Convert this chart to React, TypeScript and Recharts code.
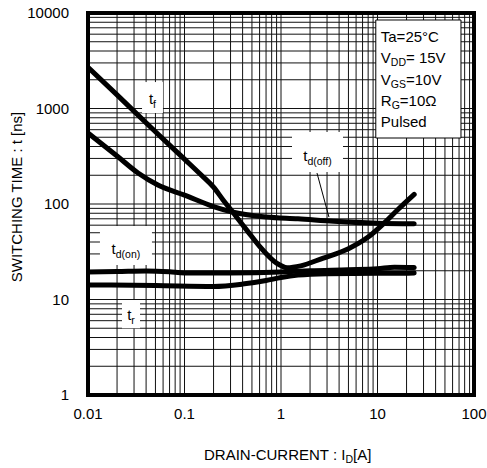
import React from "react";
import {
  LineChart,
  Line,
  XAxis,
  YAxis,
  CartesianGrid,
  ReferenceArea,
  ReferenceLine,
  Label,
} from "recharts";

// Switching time vs drain current (log-log), Ta = 25°C
const T_F = [
  [0.01, 2700], [0.02, 1390], [0.05, 570], [0.1, 295], [0.15, 200], [0.2, 150],
  [0.25, 111], [0.32, 81], [0.45, 52], [0.6, 36], [0.9, 24], [1.16, 21.5],
  [1.6, 22.5], [2.7, 27], [5, 34], [8, 45], [11.7, 63], [16, 86], [24, 126],
];
const T_D_OFF = [
  [0.01, 553], [0.02, 318], [0.033, 211], [0.053, 158], [0.1, 124], [0.2, 94],
  [0.32, 82], [0.7, 73], [1.5, 70], [3.5, 66], [10, 63], [24, 62],
];
const T_D_ON = [
  [0.01, 19.4], [0.02, 19.6], [0.04, 19.9], [0.07, 19.5], [0.1, 19], [0.3, 19],
  [1, 19.4], [2, 20], [5, 20.5], [10, 21], [15, 21.8], [24, 21.6],
];
const T_R = [
  [0.01, 14.2], [0.05, 14], [0.2, 13.7], [0.4, 14.5], [0.7, 15.8], [1, 17],
  [1.5, 18], [3, 18.6], [10, 18.8], [24, 18.9],
];

const X_MAJOR = [0.01, 0.1, 1, 10, 100];
const X_LABELS = ["0.01", "0.1", "1", "10", "100"];
const Y_MAJOR = [1, 10, 100, 1000, 10000];
const Y_LABELS = ["1", "10", "100", "1000", "10000"];
const MINOR_STEPS = [1, 2, 3, 4, 5, 6, 7, 8, 9];

const CONDITIONS = [
  { main: "Ta=25°C", sub: "", rest: "" },
  { main: "V", sub: "DD", rest: "= 15V" },
  { main: "V", sub: "GS", rest: "=10V" },
  { main: "R", sub: "G", rest: "=10Ω" },
  { main: "Pulsed", sub: "", rest: "" },
];

const FONT = "Arial, 'Liberation Sans', sans-serif";

const toPts = (pairs: number[][]) => pairs.map(([x, y]) => ({ x, y }));

const gridTicks = (majors: number[]) => {
  const out: number[] = [];
  majors.forEach((d, i) => {
    if (i === majors.length - 1) {
      out.push(d);
      return;
    }
    MINOR_STEPS.forEach((m) => out.push(Number((d * m).toPrecision(3))));
  });
  return out;
};

const X_TICKS = gridTicks(X_MAJOR);
const Y_TICKS = gridTicks(Y_MAJOR);

const fmt = (majors: number[], labels: string[]) => (v: number) => {
  const i = majors.findIndex((m) => Math.abs(m - v) / m < 1e-6);
  return i >= 0 ? labels[i] : "";
};

const curveLabel = (sub: string) => (p: any) => {
  const { x, y, width, height } = p.viewBox;
  return (
    <text
      x={x + width / 2}
      y={y + height * 0.72}
      textAnchor="middle"
      fontFamily={FONT}
      fontSize={15}
      fill="#000"
    >
      <tspan>t</tspan>
      <tspan fontSize={10.5} dy={4}>
        {sub}
      </tspan>
    </text>
  );
};

const conditionsLabel = (p: any) => {
  const { x, y } = p.viewBox;
  return (
    <g>
      {CONDITIONS.map((c, i) => (
        <text
          key={i}
          x={x + 5}
          y={y + 22 + i * 21.3}
          fontFamily={FONT}
          fontSize={15}
          fill="#000"
        >
          <tspan>{c.main}</tspan>
          {c.sub ? (
            <tspan fontSize={10.5} dy={3}>
              {c.sub}
            </tspan>
          ) : null}
          {c.rest ? <tspan dy={c.sub ? -3 : 0}>{c.rest}</tspan> : null}
        </text>
      ))}
    </g>
  );
};

const xTitle = (p: any) => {
  const { x, y } = p.viewBox;
  return (
    <text x={x + 116} y={y + 65} fontFamily={FONT} fontSize={15} fill="#000">
      <tspan>DRAIN-CURRENT : I</tspan>
      <tspan fontSize={10.5} dy={3}>
        D
      </tspan>
      <tspan dy={-3}>[A]</tspan>
    </text>
  );
};

const yTitle = (p: any) => {
  const { y, height } = p.viewBox;
  const cx = 22;
  const cy = y + height / 2 - 7;
  return (
    <text
      x={cx}
      y={cy}
      transform={`rotate(-90 ${cx} ${cy})`}
      textAnchor="middle"
      fontFamily={FONT}
      fontSize={15}
      fill="#000"
    >
      SWITCHING TIME : t [ns]
    </text>
  );
};

const series = [T_F, T_D_OFF, T_D_ON, T_R];

export default function App() {
  return (
    <div style={{ position: "absolute", left: 0, top: 0, background: "#fff" }}>
      <LineChart
        width={487}
        height={468}
        margin={{ top: 13, right: 13, left: 0, bottom: 0 }}
      >
        <CartesianGrid stroke="#111" strokeWidth={1} />
        <XAxis
          dataKey="x"
          type="number"
          scale="log"
          domain={[0.01, 100]}
          ticks={X_TICKS}
          interval={0}
          tickFormatter={fmt(X_MAJOR, X_LABELS)}
          axisLine={false}
          tickLine={false}
          tickSize={6}
          tickMargin={7}
          height={73}
          allowDataOverflow
          tick={{ fill: "#000", fontSize: 15, fontFamily: FONT }}
        >
          <Label content={xTitle} />
        </XAxis>
        <YAxis
          type="number"
          scale="log"
          domain={[1, 10000]}
          ticks={Y_TICKS}
          interval={0}
          tickFormatter={fmt(Y_MAJOR, Y_LABELS)}
          axisLine={false}
          tickLine={false}
          tickSize={6}
          tickMargin={13}
          width={88}
          allowDataOverflow
          tick={{ fill: "#000", fontSize: 15, fontFamily: FONT }}
        >
          <Label content={yTitle} />
        </YAxis>

        <ReferenceArea x1={0.0363} x2={0.0598} y1={897} y2={1892} fill="#fff" fillOpacity={1} stroke="none">
          <Label content={curveLabel("f")} />
        </ReferenceArea>
        <ReferenceArea x1={1.3} x2={4.39} y1={216} y2={567} fill="#fff" fillOpacity={1} stroke="none">
          <Label content={curveLabel("d(off)")} />
        </ReferenceArea>
        <ReferenceArea x1={0.0133} x2={0.046} y1={23} y2={58.9} fill="#fff" fillOpacity={1} stroke="none">
          <Label content={curveLabel("d(on)")} />
        </ReferenceArea>
        <ReferenceArea x1={0.0225} x2={0.0346} y1={5} y2={9.9} fill="#fff" fillOpacity={1} stroke="none">
          <Label content={curveLabel("r")} />
        </ReferenceArea>
        <ReferenceArea x1={9.6} x2={73.3} y1={491} y2={8450} fill="#fff" fillOpacity={1} stroke="#000" strokeWidth={1}>
          <Label content={conditionsLabel} />
        </ReferenceArea>
        <ReferenceLine
          segment={[
            { x: 2.36, y: 211 },
            { x: 3.14, y: 73 },
          ]}
          stroke="#000"
          strokeWidth={1}
        />

        {series.map((s, i) => (
          <Line
            key={i}
            data={toPts(s)}
            dataKey="y"
            type="monotone"
            stroke="#000"
            strokeWidth={5}
            strokeLinecap="round"
            dot={false}
            activeDot={false}
            isAnimationActive={false}
          />
        ))}

        <ReferenceArea
          x1={0.01}
          x2={100}
          y1={1}
          y2={10000}
          fill="none"
          stroke="#000"
          strokeWidth={4}
          ifOverflow="visible"
        />
      </LineChart>
    </div>
  );
}
